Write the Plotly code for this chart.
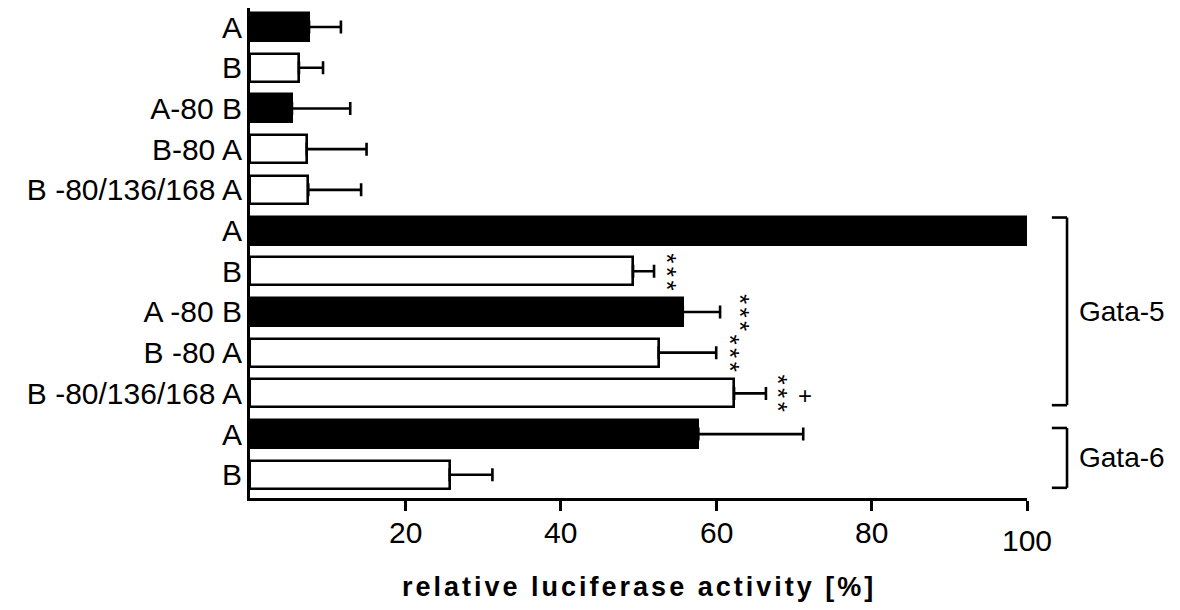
import plotly.graph_objects as go

# ---- data ----
row_labels = ["A", "B", "A-80 B", "B-80 A", "B -80/136/168 A",
              "A", "B", "A -80 B", "B -80 A", "B -80/136/168 A",
              "A", "B"]
values = [7.6, 6.3, 5.4, 7.3, 7.5,
          100.0, 49.3, 55.7, 52.6, 62.3,
          57.7, 25.7]
errors = [4.1, 3.1, 7.5, 7.7, 6.8,
          0.0, 2.7, 4.8, 7.4, 4.1,
          13.5, 5.5]
fills = ["black", "white", "black", "white", "white",
         "black", "white", "black", "white", "white",
         "black", "white"]
# significance marks
stars_rows = [6, 7, 8, 9]
star_text = "***"
plus_rows = [9]
plus_text = "+"
groups = [("Gata-5", 5, 9), ("Gata-6", 10, 11)]
xtick_vals = [20, 40, 60, 80, 100]
xtick_text = ["20", "40", "60", "80", "100"]
x_title = "relative luciferase activity [%]"

# ---- layout constants ----
W, H = 1180, 610
ML, MR, MT, MB = 250, 153, 8, 112
FONT = "Liberation Sans, Arial, sans-serif"
rows = list(range(len(row_labels)))

fig = go.Figure()
fig.add_trace(go.Bar(
    x=values, y=rows, orientation="h", width=0.69,
    marker=dict(color=fills, line=dict(color="black", width=2.6)),
    error_x=dict(type="data", array=errors, arrayminus=[0] * len(errors),
                 symmetric=False, color="black", thickness=2.6, width=6.5),
    showlegend=False, hoverinfo="skip",
))

ann = []
# x tick labels (the 100 label sits a little lower in the original)
for v, t in zip(xtick_vals, xtick_text):
    extra = 8 if v == 100 else 0
    ann.append(dict(x=v, y=0, xref="x", yref="paper", text=t, showarrow=False,
                    xanchor="center", yanchor="middle", yshift=-34 - extra,
                    font=dict(family=FONT, size=30, color="black")))
# axis title (letter-spaced as in the original)
ann.append(dict(x=0.5, y=0, xref="paper", yref="paper",
                text="<span style='letter-spacing:3px'>" + x_title + "</span>",
                showarrow=False, xanchor="center", yanchor="middle", yshift=-89,
                font=dict(family=FONT, size=27, color="black", weight="bold")))

# stars: "***" written vertically (rotated text) next to each bar
star_dx = {6: 19, 7: 26, 8: 20, 9: 18}
for r in stars_rows:
    ann.append(dict(x=values[r] + errors[r], y=r, xref="x", yref="y",
                    text="<span style='letter-spacing:3.5px'>" + star_text + "</span>",
                    textangle=90, showarrow=False, xanchor="center", yanchor="middle",
                    xshift=star_dx[r] - 6, yshift=-2,
                    font=dict(family=FONT, size=26, color="black")))
for r in plus_rows:
    ann.append(dict(x=values[r] + errors[r], y=r, xref="x", yref="y", text=plus_text,
                    showarrow=False, xanchor="center", yanchor="middle",
                    xshift=39, yshift=-2,
                    font=dict(family=FONT, size=24, color="black")))

# group brackets
shapes = []
bx_in, bx_out = 1.032, 1.0515
pads = {"Gata-5": (0.32, 0.29), "Gata-6": (0.15, 0.32)}
for name, r0, r1 in groups:
    top = r0 - pads[name][0]
    bot = r1 + pads[name][1]
    line = dict(color="black", width=2.6)
    shapes.append(dict(type="line", xref="paper", yref="y", x0=bx_out, x1=bx_out,
                       y0=top, y1=bot, line=line))
    shapes.append(dict(type="line", xref="paper", yref="y", x0=bx_in, x1=bx_out,
                       y0=top, y1=top, line=line))
    shapes.append(dict(type="line", xref="paper", yref="y", x0=bx_in, x1=bx_out,
                       y0=bot, y1=bot, line=line))
    ann.append(dict(x=1.064, y=(top + bot) / 2, xref="paper", yref="y", text=name,
                    showarrow=False, xanchor="left", yanchor="middle",
                    font=dict(family=FONT, size=28, color="black")))

fig.update_layout(
    width=W, height=H,
    margin=dict(l=ML, r=MR, t=MT, b=MB, pad=0),
    paper_bgcolor="white", plot_bgcolor="white",
    font=dict(family=FONT, color="black"),
    annotations=ann, shapes=shapes,
    xaxis=dict(range=[0, 100], tickvals=xtick_vals, ticktext=xtick_text,
               showticklabels=False, ticks="outside", ticklen=10, tickwidth=2.6,
               tickcolor="black", showline=True, linecolor="black", linewidth=3,
               showgrid=False, zeroline=False, fixedrange=True),
    yaxis=dict(range=[11.57, -0.467], tickvals=rows, ticktext=row_labels,
               ticks="", showline=True, linecolor="black", linewidth=3,
               showgrid=False, zeroline=False, ticklabelstandoff=-1,
               tickfont=dict(family=FONT, size=30, color="black"), fixedrange=True),
    bargap=0,
)

fig.write_html("out.html", config={"displayModeBar": False},
               post_script="document.body.style.margin='0';")
